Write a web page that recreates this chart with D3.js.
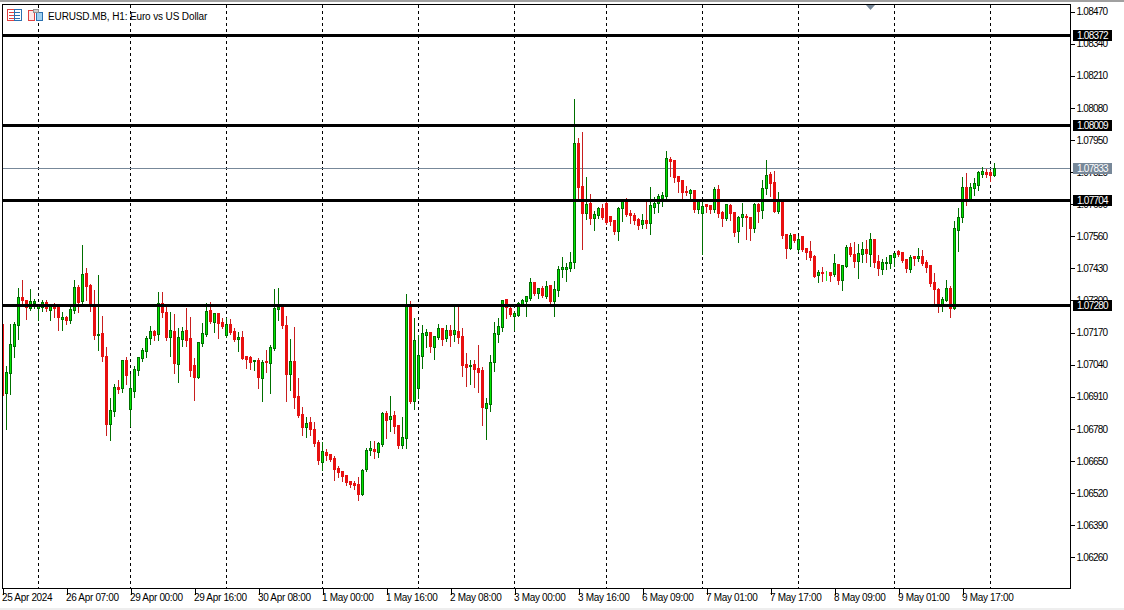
<!DOCTYPE html>
<html>
<head>
<meta charset="utf-8">
<title>EURUSD.MB, H1</title>
<script src="https://cdnjs.cloudflare.com/ajax/libs/d3/7.8.5/d3.min.js"></script>
<style>
    html, body { margin: 0; padding: 0; background: #fff; overflow: hidden; }
    svg { display: block; }
    text { font-family: "Liberation Sans", Arial, sans-serif; font-size: 10px; fill: #000; }
    .price text, .tag text { letter-spacing: -0.75px; }
    .time text { letter-spacing: -0.33px; }
    .title { letter-spacing: -0.13px; }
</style>
</head>
<body>
<svg id="chart" width="1124" height="610"></svg>
<script>
// quotes in points (price * 100000), one entry per H1 bar
const opens = [
    107203,106922,107005,107115,107200,107312,107300,107268,107289,107269,
    107270,107291,107261,107279,107273,107224,107230,107220,107258,107353,
    107295,107408,107360,107276,107156,107165,107072,106799,106851,106946,
    106942,107055,106859,106932,107018,107066,107095,107145,107173,107160,
    107287,107250,107151,107173,107042,107143,107177,107144,107035,106989,
    107127,107163,107258,107212,107246,107209,107158,107201,107173,107142,
    107149,107073,107067,107054,107055,106985,107053,107046,107105,107263,
    107270,107197,107001,107051,106909,106836,106785,106804,106779,106723,
    106644,106686,106675,106659,106619,106606,106590,106566,106558,106554,
    106513,106615,106692,106696,106684,106716,106840,106817,106832,106793,
    106712,106742,107280,106892,106943,107074,107158,107169,107109,107150,
    107185,107146,107177,107162,107173,107152,107039,107032,107039,107024,
    107016,106862,106878,107048,107162,107190,107302,107266,107236,107240,
    107284,107296,107308,107371,107328,107348,107316,107359,107296,107340,
    107427,107426,107431,107452,107937,107763,107653,107694,107633,107645,
    107674,107694,107641,107625,107580,107674,107702,107653,107645,107629,
    107609,107625,107613,107678,107694,107714,107722,107872,107868,107803,
    107787,107742,107734,107747,107669,107653,107688,107686,107669,107751,
    107657,107633,107686,107657,107580,107636,107640,107636,107592,107689,
    107665,107754,107811,107778,107661,107697,107567,107511,107567,107507,
    107559,107511,107498,107478,107401,107413,107412,107413,107405,107446,
    107381,107438,107515,107486,107458,107486,107507,107486,107547,107458,
    107425,107450,107450,107474,107498,107494,107466,107425,107478,107470,
    107478,107454,107442,107373,107344,107279,107300,107348,107267,107584,
    107636,107758,107705,107754,107766,107811,107819,107819,107807
];
const highs = [
    107203,107037,107206,107215,107353,107384,107300,107349,107308,107280,
    107304,107304,107284,107292,107280,107256,107237,107276,107385,107365,
    107527,107434,107370,107345,107406,107239,107114,106907,106962,106980,
    107057,107073,107003,107037,107073,107108,107157,107199,107183,107337,
    107337,107287,107256,107246,107189,107193,107273,107235,107067,107132,
    107211,107290,107294,107250,107247,107231,107232,107226,107190,107174,
    107178,107077,107077,107061,107067,107059,107101,107121,107349,107353,
    107278,107239,107146,107194,106988,106870,106830,106830,106809,106736,
    106728,106700,106675,106671,106631,106606,106590,106570,106570,106586,
    106619,106704,106732,106732,106728,106850,106854,106915,106854,106793,
    106829,107328,107300,107231,107162,107202,107185,107170,107158,107205,
    107189,107202,107202,107275,107275,107190,107089,107061,107061,107121,
    107032,106906,107081,107215,107231,107304,107304,107280,107259,107294,
    107308,107316,107393,107377,107353,107361,107381,107361,107381,107442,
    107478,107455,107499,108116,107961,107982,107803,107734,107665,107682,
    107694,107699,107645,107625,107682,107706,107718,107669,107657,107637,
    107653,107702,107763,107722,107734,107742,107909,107884,107868,107803,
    107787,107767,107752,107747,107706,107706,107694,107690,107763,107771,
    107665,107690,107694,107661,107645,107698,107653,107640,107698,107698,
    107790,107872,107823,107827,107742,107698,107567,107575,107567,107563,
    107559,107515,107543,107486,107425,107438,107421,107417,107490,107450,
    107446,107527,107535,107539,107531,107539,107547,107575,107547,107486,
    107470,107478,107486,107490,107507,107494,107470,107486,107482,107515,
    107507,107466,107446,107413,107352,107316,107385,107361,107624,107677,
    107803,107819,107778,107799,107827,107843,107835,107831,107859
];
const lows = [
    106915,106782,106924,107073,107147,107292,107227,107265,107270,107223,
    107260,107260,107223,107235,107183,107183,107208,107212,107251,107256,
    107289,107304,107260,107147,107101,107057,106757,106736,106834,106927,
    106931,106964,106793,106911,107000,107057,107073,107126,107142,107142,
    107235,107143,107077,107008,106972,107118,107118,106996,106898,106989,
    107117,107158,107211,107174,107150,107190,107154,107166,107136,107097,
    107065,107028,107023,107020,106947,106894,107012,106927,107101,107223,
    107190,106894,106939,106866,106830,106757,106748,106757,106712,106639,
    106616,106655,106651,106574,106586,106570,106554,106546,106538,106493,
    106513,106611,106675,106663,106667,106712,106744,106773,106765,106704,
    106704,106704,106886,106862,106906,107028,107113,107093,107065,107146,
    107121,107136,107117,107138,107129,106996,106955,106963,106951,106931,
    106797,106740,106854,107016,107134,107178,107231,107239,107182,107239,
    107282,107239,107304,107324,107312,107316,107312,107292,107239,107320,
    107397,107381,107422,107435,107706,107511,107633,107613,107588,107637,
    107633,107611,107609,107572,107548,107625,107645,107617,107613,107592,
    107596,107596,107572,107657,107661,107686,107718,107807,107783,107742,
    107710,107730,107718,107661,107657,107491,107661,107657,107661,107641,
    107605,107629,107629,107564,107540,107604,107551,107547,107580,107620,
    107636,107734,107726,107661,107657,107555,107474,107511,107539,107503,
    107503,107470,107466,107397,107377,107381,107385,107381,107401,107369,
    107344,107438,107482,107438,107393,107458,107458,107442,107438,107405,
    107409,107430,107434,107442,107482,107458,107417,107417,107446,107462,
    107446,107417,107361,107292,107255,107259,107300,107235,107267,107503,
    107620,107689,107705,107730,107750,107803,107803,107786,107807
];
const closes = [
    106915,107007,107120,107201,107311,107300,107270,107295,107295,107279,
    107291,107266,107276,107269,107229,107230,107220,107262,107352,107292,
    107404,107358,107284,107156,107161,107073,106799,106853,106946,106939,
    107055,106997,106942,107019,107069,107096,107145,107173,107158,107287,
    107253,107151,107177,107046,107149,107173,107139,107017,106989,107128,
    107165,107254,107215,107246,107207,107194,107201,107170,107142,107149,
    107065,107061,107048,107057,106988,107047,107050,107108,107266,107270,
    107199,107001,107051,106907,106834,106785,106800,106777,106720,106650,
    106690,106671,106655,106615,106602,106586,106562,106554,106550,106513,
    106611,106692,106700,106688,106720,106840,106813,106828,106789,106712,
    106744,107280,106890,107136,107075,107165,107170,107113,107152,107185,
    107142,107177,107158,107177,107150,107036,107028,107036,107020,107008,
    106866,106881,107047,107165,107193,107298,107271,107243,107246,107286,
    107298,107315,107371,107328,107348,107319,107355,107294,107343,107424,
    107432,107432,107453,107937,107759,107653,107688,107633,107649,107674,
    107637,107617,107621,107580,107674,107699,107649,107645,107625,107605,
    107625,107613,107686,107694,107722,107726,107876,107864,107799,107783,
    107738,107738,107747,107669,107702,107682,107682,107669,107751,107653,
    107633,107688,107653,107576,107637,107648,107636,107592,107689,107661,
    107754,107807,107774,107661,107701,107563,107511,107563,107543,107547,
    107507,107494,107474,107397,107413,107409,107412,107401,107450,107381,
    107442,107515,107486,107458,107490,107507,107490,107547,107454,107430,
    107454,107454,107482,107490,107486,107462,107430,107474,107470,107478,
    107450,107434,107369,107344,107279,107304,107348,107267,107592,107636,
    107758,107705,107758,107774,107819,107823,107811,107807,107833
];

// price axis
const priceTicks = [1.0847, 1.0834, 1.0821, 1.0808, 1.0795, 1.0782, 1.0769, 1.0756, 1.0743,
    1.073, 1.0717, 1.0704, 1.0691, 1.0678, 1.0665, 1.0652, 1.0639, 1.0626];
const levels = [1.08372, 1.08009, 1.07704, 1.0728];
const lastPrice = 1.07833;

// time axis: bar index and label, one every 16 bars
const timeTickBars = [0, 16, 32, 48, 64, 80, 96, 112, 128, 144, 160, 176, 192, 208, 224, 240];
const timeTickLabels = ['25 Apr 2024', '26 Apr 07:00', '29 Apr 00:00', '29 Apr 16:00', '30 Apr 08:00',
    '1 May 00:00', '1 May 16:00', '2 May 08:00', '3 May 00:00', '3 May 16:00', '6 May 09:00',
    '7 May 01:00', '7 May 17:00', '8 May 09:00', '9 May 01:00', '9 May 17:00'];
// first H1 bar of each day
const daySeparators = [9, 32, 56, 80, 104, 128, 151, 175, 199, 223, 247];

const title = 'EURUSD.MB, H1: Euro vs US Dollar';

const frame = { left: 2.5, right: 1070.5, top: 4.5, bottom: 588.5 };
const colors = {
    upLine: '#006f00', upFill: '#00e600', downLine: '#c81e1e', downFill: '#e81010',
    doji: '#19e619', last: '#778899'
};

const bars = opens.map((o, i) => ({
    i, open: o / 1e5, high: highs[i] / 1e5, low: lows[i] / 1e5, close: closes[i] / 1e5
}));

const svg = d3.select('#chart');
const x = d3.scaleLinear().domain([0, 248]).range([2.5, 994.5]);
const y = d3.scaleLinear().domain([1.0847, 1.0626]).range([11.5, 557.2]);
const py = v => Math.round(y(v) - 0.5) + 0.5;

// window edges
svg.append('rect').attr('width', 1124).attr('height', 2).attr('fill', '#a0a0a0');
svg.append('rect').attr('y', 608).attr('width', 1124).attr('height', 2).attr('fill', '#eeeeee');

svg.append('defs').append('clipPath').attr('id', 'plot')
    .append('rect')
    .attr('x', frame.left).attr('y', frame.top)
    .attr('width', frame.right - frame.left).attr('height', frame.bottom - frame.top);

const plot = svg.append('g').attr('clip-path', 'url(#plot)').attr('shape-rendering', 'crispEdges');

// day separators
plot.append('g').selectAll('line')
    .data(daySeparators)
    .join('line')
    .attr('x1', d => x(d)).attr('x2', d => x(d))
    .attr('y1', frame.top).attr('y2', frame.bottom)
    .attr('stroke', '#000')
    .attr('stroke-dasharray', '3,3');

// last price
plot.append('line')
    .attr('x1', frame.left).attr('x2', frame.right)
    .attr('y1', py(lastPrice)).attr('y2', py(lastPrice))
    .attr('stroke', colors.last);

// candles
const candle = plot.append('g').selectAll('g')
    .data(bars)
    .join('g');

function lineColor(d) {
    if (d.close === d.open) return colors.doji;
    return d.close > d.open ? colors.upLine : colors.downLine;
}

candle.append('line')
    .attr('x1', d => x(d.i)).attr('x2', d => x(d.i))
    .attr('y1', d => py(d.high)).attr('y2', d => py(d.low) + 1)
    .attr('stroke', lineColor);

candle.append('rect')
    .attr('x', d => x(d.i) - 1)
    .attr('width', 2)
    .attr('y', d => py(Math.max(d.open, d.close)))
    .attr('height', d => py(Math.min(d.open, d.close)) - py(Math.max(d.open, d.close)))
    .attr('fill', d => d.close > d.open ? colors.upFill : colors.downFill)
    .attr('stroke', d => {
        if (d.close === d.open) return colors.doji;
        return d.close > d.open ? colors.upLine : colors.downFill;
    });

// support / resistance levels
plot.append('g').selectAll('line')
    .data(levels)
    .join('line')
    .attr('x1', frame.left).attr('x2', frame.right)
    .attr('y1', d => py(d)).attr('y2', d => py(d))
    .attr('stroke', '#000')
    .attr('stroke-width', 3);

// frame
svg.append('rect')
    .attr('x', frame.left).attr('y', frame.top)
    .attr('width', frame.right - frame.left).attr('height', frame.bottom - frame.top)
    .attr('fill', 'none')
    .attr('stroke', '#000')
    .attr('shape-rendering', 'crispEdges');

// axes
const yAxis = d3.axisRight(y)
    .tickValues(priceTicks)
    .tickFormat(d3.format('.5f'))
    .tickSize(4)
    .tickPadding(2);

const yAxisG = svg.append('g')
    .attr('class', 'price')
    .attr('transform', `translate(${frame.right},0)`)
    .call(yAxis);
yAxisG.select('.domain').remove();
yAxisG.selectAll('line').attr('shape-rendering', 'crispEdges').attr('stroke', '#000');
yAxisG.selectAll('text').attr('font-family', null).attr('font-size', null);

const xAxis = d3.axisBottom(x)
    .tickValues(timeTickBars)
    .tickFormat((d, i) => timeTickLabels[i])
    .tickSize(6)
    .tickPadding(2);

const xAxisG = svg.append('g')
    .attr('class', 'time')
    .attr('transform', `translate(0,${frame.bottom})`)
    .call(xAxis);
xAxisG.select('.domain').remove();
xAxisG.selectAll('line').attr('shape-rendering', 'crispEdges').attr('stroke', '#000');
xAxisG.selectAll('text')
    .attr('text-anchor', 'start')
    .attr('x', -1)
    .attr('y', 5)
    .attr('dy', '0.71em');

// price tags
const tags = svg.append('g').selectAll('g')
    .data(levels.map(v => ({ v, bg: '#000' })).concat([{ v: lastPrice, bg: colors.last }]))
    .join('g')
    .attr('class', 'tag')
    .attr('transform', d => `translate(${frame.right + 2.5},${py(d.v) - 0.5})`);

tags.append('rect')
    .attr('y', -5)
    .attr('width', 39)
    .attr('height', 11)
    .attr('fill', d => d.bg);

tags.append('text')
    .attr('x', 4)
    .attr('y', 0.5)
    .attr('dy', '0.35em')
    .style('fill', '#fff')
    .text(d => d3.format('.5f')(d.v));

// title bar
svg.append('text')
    .attr('class', 'title')
    .attr('x', 48).attr('y', 16)
    .attr('dy', '0.35em')
    .text(title);

const icons = svg.append('g').attr('shape-rendering', 'crispEdges');
// list icon
icons.append('rect').attr('x', 7.5).attr('y', 9.5).attr('width', 7).attr('height', 11)
    .attr('fill', '#fff').attr('stroke', '#e04040');
icons.append('rect').attr('x', 14.5).attr('y', 9.5).attr('width', 7).attr('height', 11)
    .attr('fill', '#fff').attr('stroke', '#2a70b0');
[12.5, 15.5, 18.5].forEach(v => {
    icons.append('line').attr('x1', 9).attr('x2', 14).attr('y1', v).attr('y2', v).attr('stroke', '#e04040');
    icons.append('line').attr('x1', 15).attr('x2', 20).attr('y1', v).attr('y2', v).attr('stroke', '#2a70b0');
});
// objects icon
icons.append('rect').attr('x', 28.5).attr('y', 10.5).attr('width', 6).attr('height', 10)
    .attr('fill', '#fde8e8').attr('stroke', '#e04040');
icons.append('rect').attr('x', 36.5).attr('y', 12.5).attr('width', 6).attr('height', 8)
    .attr('fill', '#9fd0f0').attr('stroke', '#2a70b0');
icons.append('rect').attr('x', 33.5).attr('y', 9.5).attr('width', 5).attr('height', 3)
    .attr('fill', '#d0d0d0').attr('stroke', '#909090');

// chart shift marker
svg.append('path')
    .attr('d', d3.line()([[866, 5], [875, 5], [870.5, 10]]))
    .attr('fill', colors.last);
</script>
</body>
</html>
